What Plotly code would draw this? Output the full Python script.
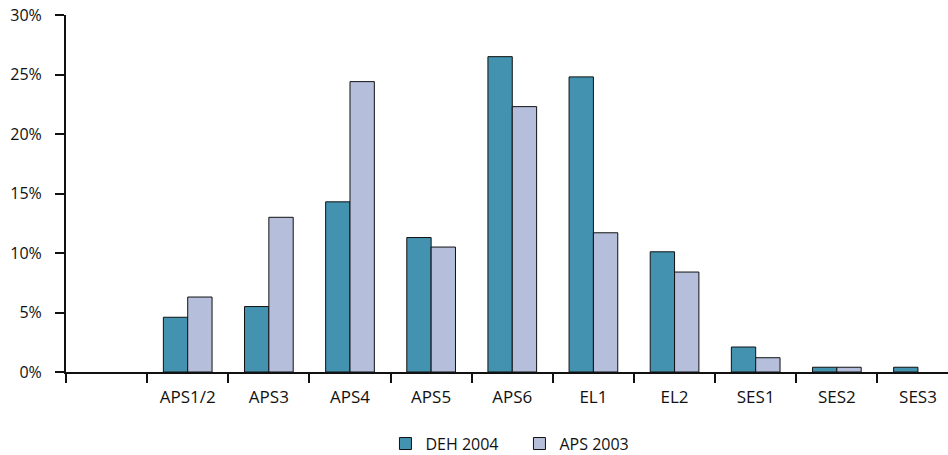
import plotly.graph_objects as go

# Category labels (first slot is an empty spacer category)
categories = [" ", "APS1/2", "APS3", "APS4", "APS5", "APS6", "EL1", "EL2", "SES1", "SES2", "SES3"]

# Share of staff per classification level (%); None = no bar drawn
deh_2004 = [None, 4.6, 5.5, 14.3, 11.3, 26.5, 24.8, 10.1, 2.1, 0.4, 0.4]
aps_2003 = [None, 6.3, 13.0, 24.4, 10.5, 22.3, 11.7, 8.4, 1.2, 0.4, None]

y_ticks = [0, 5, 10, 15, 20, 25, 30]
y_tick_text = [f"{v}%" for v in y_ticks]

FONT = "Open Sans"
X_SIZE = 17
Y_SIZE = 16
LEGEND_SIZE = 16
INK = "#111111"

fig = go.Figure()
fig.add_trace(go.Bar(
    name="DEH 2004", x=categories, y=deh_2004,
    marker=dict(color="#4292B0", line=dict(color=INK, width=1)),
))
fig.add_trace(go.Bar(
    name="APS 2003", x=categories, y=aps_2003,
    marker=dict(color="#B5BFDB", line=dict(color=INK, width=1)),
))

fig.update_layout(
    width=948, height=455,
    margin=dict(l=66, r=0, t=15, b=83),
    paper_bgcolor="white", plot_bgcolor="white",
    barmode="group", bargap=0.4, bargroupgap=0.0,
    font=dict(family=FONT, size=X_SIZE, color=INK),
    showlegend=True,
    legend=dict(
        orientation="h",
        xref="container", yref="container",
        x=0.4066, xanchor="left", y=0.025, yanchor="middle",
        font=dict(family=FONT, size=LEGEND_SIZE, color=INK),
        itemwidth=30, traceorder="normal",
        entrywidth=89, entrywidthmode="pixels",
    ),
)

fig.update_xaxes(
    type="category",
    range=[-0.5, 10.37],
    showgrid=False, zeroline=False,
    showline=True, linecolor=INK, linewidth=2,
    ticks="outside", tickson="boundaries", ticklen=9, tickwidth=2, tickcolor=INK,
    ticklabelstandoff=9,
    tickfont=dict(family=FONT, size=X_SIZE, color=INK),
)

fig.update_yaxes(
    range=[0, 30],
    tickmode="array", tickvals=y_ticks, ticktext=y_tick_text,
    showgrid=False, zeroline=False,
    showline=True, linecolor=INK, linewidth=2,
    ticks="outside", ticklen=9, tickwidth=2, tickcolor=INK,
    ticklabelstandoff=10,
    tickfont=dict(family=FONT, size=Y_SIZE, color=INK),
)

fig.write_html("out.html")
